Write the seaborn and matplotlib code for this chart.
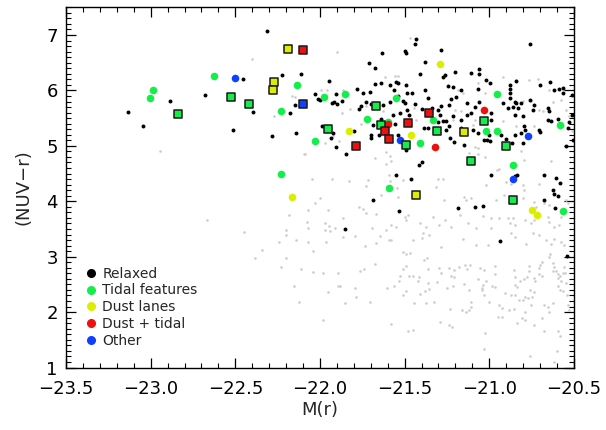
import numpy as np
import matplotlib
matplotlib.use('Agg')
import matplotlib.pyplot as plt
import seaborn as sns
from matplotlib.lines import Line2D
from matplotlib.ticker import MultipleLocator

# parent sample (light grey)
gray_x = [-22.403, -22.944, -22.165, -22.147, -22.269, -22.09,
          -22.67, -22.446, -22.344, -22.385, -22.242, -22.228, -22.20, -22.202, -22.198, -22.183,
          -22.139, -22.153, -22.11, -22.124, -22.078, -22.07, -22.07, -22.07,
          -21.47, -21.90, -21.618, -21.557, -21.537, -21.994, -21.958, -21.864, -21.825, -21.87,
          -21.73, -21.628, -21.443, -21.435, -21.757, -21.925, -21.70,
          -20.92, -20.84, -20.763, -20.713, -21.067, -21.028, -21.186, -21.156, -20.753, -20.80,
          -20.704, -20.684, -20.645, -20.625, -20.575, -20.546, -20.527, -21.205, -21.166, -21.215,
          -21.087, -21.097, -20.92, -20.84, -20.733, -20.566, -20.51,
          -21.888, -21.97, -22.092, -21.673, -21.612, -21.588, -21.578, -21.608, -22.05, -21.927,
          -21.826, -21.717, -21.593, -21.588, -21.726, -21.51, -21.546, -21.54, -21.638, -22.0,
          -22.03, -21.771, -21.746, -21.728, -21.953, -21.667, -21.50, -21.48, -21.49, -21.864,
          -21.97, -21.947, -21.913, -21.97, -21.938, -21.69, -21.578, -21.553, -21.608, -21.647,
          -21.593, -21.578, -21.795, -21.864, -21.966, -21.736, -21.667, -21.451, -21.40, -21.392,
          -21.372, -21.353, -21.408, -21.333, -21.51, -21.47, -22.041,
          -21.117, -21.067, -21.028, -20.953, -20.94, -20.792, -20.81, -21.087, -21.067, -20.635,
          -21.30, -21.274, -21.018, -20.90, -20.87, -20.80, -20.796, -20.704, -21.313, -21.15,
          -21.136, -21.268, -21.107, -20.959, -20.91, -20.80, -20.733, -20.723, -20.674, -20.645,
          -20.546, -20.537, -21.264, -21.175, -21.038, -20.99, -20.94, -20.89, -20.88, -20.86,
          -20.85, -20.79, -20.753, -20.733, -20.655, -20.645, -20.616, -20.586, -20.575, -21.077,
          -21.126, -21.225, -21.294, -20.99, -20.87, -20.85, -20.743, -20.704, -20.664, -20.635,
          -20.616, -20.575, -20.556, -21.284, -21.156, -21.077, -21.008, -20.78,
          -22.04, -21.893, -21.893, -21.883, -21.953, -21.984, -21.85, -21.793, -21.785, -21.765,
          -21.742, -21.677, -21.706, -21.606, -21.561, -21.583, -21.53, -21.534, -21.51, -21.494,
          -21.494, -21.476, -21.449, -21.422, -21.416, -21.49, -21.51, -21.447, -21.408, -21.376,
          -21.38, -21.357, -21.36, -21.386, -21.37, -21.363, -21.329, -21.48, -21.45,
          -21.294, -21.284, -21.307, -21.235, -21.21, -21.176, -21.142, -21.13, -21.112, -21.225,
          -21.211, -21.25, -21.215, -21.15, -21.12, -21.23, -21.288, -21.24, -21.22, -21.107,
          -21.158, -21.136, -21.12, -21.11, -21.053, -21.032, -21.067, -21.022, -21.034, -21.044,
          -21.042, -21.032, -21.004, -20.985, -20.965, -20.965, -20.965, -21.024, -21.032, -20.944,
          -20.924, -20.95, -20.924, -20.904, -20.886, -20.87, -20.85, -20.855, -20.855, -20.85,
          -20.845, -20.835, -20.816, -20.796, -20.776, -20.767, -20.767, -20.835, -20.806, -20.786,
          -20.826, -20.80, -20.79, -20.77, -20.747, -20.786, -20.757, -20.737, -20.753, -20.733,
          -20.757, -20.737, -20.727, -20.704, -20.698, -20.69, -20.708, -20.688, -20.678, -20.655,
          -20.688, -20.678, -20.645, -20.645, -20.625, -20.616, -20.605, -20.625, -20.621, -20.596,
          -20.592, -20.58, -20.575, -20.566, -20.596, -20.58, -20.566, -20.542, -20.537, -20.53,
          -20.592, -20.58, -20.60, -20.616, -20.556, -20.552, -20.546, -20.64, -21.98]
gray_y = [6.57, 4.90, 5.90, 5.88, 5.53, 4.85,
          3.66, 3.45, 3.12, 2.98, 3.26, 2.81, 2.98, 3.48, 3.40, 3.75,
          3.31, 2.48, 2.77, 2.18, 3.62, 3.84, 3.51, 3.27,
          6.94, 6.69, 6.24, 6.26, 6.26, 6.00, 6.00, 6.00, 5.66, 5.60,
          5.72, 5.62, 5.68, 5.47, 5.40, 5.18, 5.18,
          6.24, 6.18, 6.18, 6.20, 6.14, 5.96, 6.01, 5.95, 5.81, 5.81,
          5.65, 5.62, 6.01, 5.80, 5.82, 5.65, 5.53, 5.65, 5.62, 5.47,
          5.47, 5.38, 5.44, 5.35, 5.35, 5.35, 5.26,
          5.08, 5.05, 4.86, 4.78, 4.89, 4.82, 4.73, 4.67, 4.41, 4.40,
          4.37, 4.39, 4.47, 4.36, 4.28, 4.38, 4.24, 4.08, 4.11, 4.06,
          3.97, 3.90, 3.86, 3.79, 3.85, 3.77, 3.72, 3.75, 3.67, 3.69,
          3.60, 3.56, 3.52, 3.49, 3.46, 3.52, 3.57, 3.54, 3.48, 3.37,
          3.31, 3.30, 3.37, 3.36, 3.27, 3.19, 3.25, 3.31, 3.34, 3.42,
          3.54, 3.39, 3.60, 3.72, 3.08, 3.07, 3.10,
          4.87, 4.86, 4.79, 4.56, 4.59, 4.75, 4.90, 4.98, 4.96, 4.73,
          4.41, 4.41, 4.30, 4.35, 4.32, 4.29, 4.21, 4.32, 4.26, 4.08,
          4.02, 4.02, 4.05, 4.02, 4.11, 4.05, 3.99, 3.90, 3.96, 3.93,
          4.02, 3.96, 3.67, 3.75, 3.73, 3.69, 3.69, 3.69, 3.60, 3.69,
          3.58, 3.66, 3.60, 3.66, 3.72, 3.62, 3.54, 3.57, 3.72, 3.52,
          3.60, 3.54, 3.57, 3.51, 3.42, 3.36, 3.42, 3.39, 3.30, 3.23,
          3.32, 3.27, 3.21, 3.18, 3.32, 3.21, 3.21, 3.23,
          2.73, 2.71, 2.47, 2.48, 2.37, 1.85, 2.17, 2.43, 2.27, 2.74,
          2.77, 2.86, 2.19, 2.44, 2.47, 1.79, 2.65, 2.56, 2.77, 2.83,
          3.05, 2.65, 2.66, 2.57, 2.64, 2.38, 2.31, 2.16, 2.33, 2.16,
          2.38, 2.42, 2.53, 2.94, 2.98, 2.77, 2.19, 1.65, 1.68,
          2.79, 2.71, 2.54, 2.79, 2.76, 2.82, 2.85, 2.78, 2.85, 2.65,
          2.63, 2.43, 2.47, 2.50, 2.40, 2.06, 1.83, 1.77, 1.74, 2.19,
          2.04, 2.00, 2.03, 2.09, 2.80, 2.76, 2.59, 2.57, 2.49, 2.43,
          2.39, 2.31, 2.18, 2.47, 2.46, 2.83, 2.68, 1.62, 1.33, 2.13,
          2.07, 1.92, 1.91, 2.34, 2.03, 2.30, 2.31, 2.06, 2.76, 2.63,
          2.49, 2.46, 2.57, 2.59, 2.63, 2.75, 2.83, 1.80, 1.89, 1.86,
          2.21, 2.22, 2.27, 2.25, 2.28, 2.00, 2.40, 2.36, 2.13, 1.77,
          1.21, 2.61, 2.57, 2.80, 2.85, 2.90, 2.69, 2.66, 2.12, 2.09,
          1.89, 1.66, 2.00, 2.99, 2.89, 2.81, 2.75, 2.75, 2.16, 2.69,
          2.61, 2.65, 2.57, 2.70, 2.48, 2.39, 2.38, 2.30, 2.13, 2.03,
          1.66, 1.57, 1.29, 1.10, 2.82, 2.71, 2.52, 3.05, 2.70]

# Relaxed (black)
relaxed_x = [-23.136, -23.044, -22.885, -22.678, -22.513, -22.456, -22.397, -22.314, -22.285, -22.224,
             -22.178, -22.149, -22.141, -22.115,
             -21.948, -22.029, -22.013, -22.001, -21.929, -21.919, -21.897, -21.905, -21.868, -21.78,
             -21.748, -21.703, -21.73, -21.76, -21.77, -21.71, -21.677, -21.632, -21.673, -21.638,
             -21.587, -21.553, -21.541, -21.565, -21.492, -21.50, -21.49, -21.44, -21.43, -21.408,
             -21.378, -21.488, -21.459, -21.541, -21.378, -21.363, -21.437, -21.498, -21.51, -21.63,
             -21.699, -21.587, -21.53, -21.484, -21.476, -21.40, -21.569, -21.64, -21.557, -21.687,
             -21.99, -21.923, -21.80, -21.696, -21.652, -21.54, -21.384, -21.363, -21.337,
             -21.284, -21.205, -21.107, -21.058, -21.058, -20.757, -21.274, -21.264, -21.245, -21.215,
             -21.225, -21.195, -21.166, -21.13, -21.284, -21.30, -21.24, -21.29, -21.254, -21.215,
             -21.235, -21.166, -21.132, -21.107, -21.087, -21.058, -21.067, -21.018, -20.993, -20.92,
             -20.88, -20.88, -20.875, -20.841, -20.88, -20.85, -20.84, -20.89, -20.861, -20.83,
             -20.81, -20.80, -20.85, -20.76, -20.733, -20.743, -20.70, -20.64, -20.655, -20.645,
             -20.655, -20.635, -20.616, -20.59, -20.566, -20.566, -20.596, -20.537, -20.527, -20.704,
             -20.698, -20.792, -20.786, -20.81, -20.85, -21.30, -21.274, -21.166, -21.166, -21.254,
             -21.097, -21.067, -20.99, -21.0, -20.93, -20.988, -20.51, -20.51,
             -21.935, -21.907, -21.846, -21.696, -21.494, -21.40, -21.413, -21.55, -21.46, -21.687,
             -21.533, -21.854,
             -21.23, -21.21, -21.152, -21.032, -21.012, -20.993, -20.90, -20.865, -20.80, -20.546,
             -20.507, -20.99, -20.847, -20.835, -20.674, -20.605, -20.58, -20.625, -20.616, -20.596,
             -20.674, -20.61, -21.187, -21.087, -21.034, -20.934, -20.54]
relaxed_y = [5.61, 5.36, 5.81, 5.92, 5.29, 6.21, 5.61, 7.07, 5.17, 6.28,
             5.59, 5.74, 5.24, 6.29,
             6.17, 5.94, 5.84, 5.83, 5.77, 5.80, 5.75, 5.94, 5.81, 6.03,
             5.95, 5.98, 5.80, 5.72, 5.66, 6.50, 6.41, 6.67, 6.12, 6.13,
             6.09, 6.16, 6.13, 6.00, 6.09, 6.71, 6.68, 6.83, 6.92, 6.30,
             6.51, 5.95, 5.95, 5.90, 6.00, 5.87, 5.76, 5.77, 5.81, 5.74,
             5.76, 5.79, 5.60, 5.64, 5.55, 5.66, 5.56, 5.49, 5.40, 5.38,
             5.35, 5.23, 5.26, 5.20, 5.20, 5.20, 5.33, 5.33, 5.68,
             6.73, 6.34, 6.32, 6.38, 6.30, 6.83, 6.25, 6.28, 6.08, 6.06,
             5.84, 5.88, 6.01, 5.77, 5.72, 5.65, 5.73, 5.56, 5.45, 5.53,
             5.36, 5.47, 5.56, 5.59, 5.70, 5.80, 6.02, 6.19, 6.14, 5.77,
             6.10, 6.02, 5.95, 6.17, 5.86, 5.80, 5.77, 5.68, 5.71, 5.68,
             5.77, 5.53, 5.56, 5.83, 5.74, 5.65, 6.10, 6.16, 5.68, 5.62,
             5.47, 5.44, 6.00, 6.02, 6.04, 5.95, 5.48, 5.32, 5.43, 5.29,
             5.25, 5.35, 5.29, 5.23, 5.20, 5.43, 5.44, 5.32, 5.25, 5.29,
             5.29, 5.23, 5.47, 5.20, 5.20, 5.60, 5.92, 5.55,
             5.14, 4.98, 4.85, 5.15, 4.92, 4.70, 4.66, 4.47, 4.41, 4.02,
             3.82, 3.50,
             5.14, 5.07, 5.02, 5.11, 5.11, 5.08, 5.13, 5.05, 5.06, 4.99,
             5.10, 4.47, 4.45, 4.47, 4.48, 4.42, 4.33, 4.20, 4.13, 4.09,
             4.03, 3.88, 3.87, 3.90, 3.92, 3.28, 3.01]

# Tidal features (green)
tidal_circ_x = [-23.003, -22.987, -22.626, -22.23, -22.136, -22.23, -22.03, -21.976, -21.85, -21.72,
                -21.60, -21.55, -21.59, -21.41, -21.33, -21.02, -20.956, -20.956, -20.86, -20.58, -20.566]
tidal_circ_y = [5.86, 6.01, 6.26, 5.62, 6.09, 4.49, 5.09, 5.88, 5.93, 5.48,
                5.43, 5.86, 4.24, 5.06, 5.47, 5.26, 5.94, 5.27, 4.65, 5.38, 3.82]
tidal_sq_x = [-22.836, -22.526, -22.42, -21.95, -21.67, -21.64, -21.49, -21.31, -21.11, -21.03, -20.90, -20.86]
tidal_sq_y = [5.57, 5.89, 5.76, 5.30, 5.72, 5.38, 5.02, 5.26, 4.72, 5.44, 4.99, 4.02]

# Dust lanes (yellow)
dust_circ_x = [-22.165, -21.83, -21.46, -21.29, -20.75, -20.72]
dust_circ_y = [4.08, 5.27, 5.19, 6.47, 3.85, 3.76]
dust_sq_x = [-22.19, -22.27, -22.28, -21.43, -21.15]
dust_sq_y = [6.74, 6.15, 6.01, 4.11, 5.25]

# Dust + tidal (red)
dt_circ_x = [-21.60, -21.32, -21.03]
dt_circ_y = [5.39, 4.98, 5.65]
dt_sq_x = [-22.10, -21.79, -21.615, -21.59, -21.48, -21.355]
dt_sq_y = [6.73, 4.99, 5.26, 5.12, 5.41, 5.59]

# Other (blue)
other_circ_x = [-22.50, -21.53, -20.77, -20.86]
other_circ_y = [6.22, 5.10, 5.18, 4.40]
other_sq_x = [-22.10]
other_sq_y = [5.75]

labels = ['Relaxed', 'Tidal features', 'Dust lanes', 'Dust + tidal', 'Other']
colors = ['black', '#14ee4a', '#dcee00', '#ee1010', '#1040ff']

sns.set_style('ticks', {'xtick.direction': 'in', 'ytick.direction': 'in'})
plt.rcParams['font.family'] = ['DejaVu Sans']

fig = plt.figure(figsize=(6.06, 4.30), dpi=100)
ax = fig.add_axes([0.109, 0.1453, 0.838, 0.8377])

sns.scatterplot(x=gray_x, y=gray_y, ax=ax, color='#cdcdcd', s=3.5, linewidth=0, zorder=1, legend=False)
sns.scatterplot(x=relaxed_x, y=relaxed_y, ax=ax, color='black', s=8, linewidth=0, zorder=2, legend=False)

circ_sets = [(tidal_circ_x, tidal_circ_y), (dust_circ_x, dust_circ_y),
             (dt_circ_x, dt_circ_y), (other_circ_x, other_circ_y)]
sq_sets = [(tidal_sq_x, tidal_sq_y), (dust_sq_x, dust_sq_y),
           (dt_sq_x, dt_sq_y), (other_sq_x, other_sq_y)]
for (cx, cy), (qx, qy), col in zip(circ_sets, sq_sets, colors[1:]):
    sns.scatterplot(x=cx, y=cy, ax=ax, color=col, s=30, linewidth=0, zorder=3, legend=False)
    sns.scatterplot(x=qx, y=qy, ax=ax, color=col, marker='s', s=32, edgecolor='#1a1a1a',
                    linewidth=1.1, zorder=4, legend=False)

ax.set_xlim(-23.5, -20.5)
ax.set_ylim(1.0, 7.5)
ax.xaxis.set_major_locator(MultipleLocator(0.5))
ax.xaxis.set_minor_locator(MultipleLocator(0.1))
ax.yaxis.set_major_locator(MultipleLocator(1))
ax.yaxis.set_minor_locator(MultipleLocator(0.1))
ax.set_xticklabels([f'\u2212{abs(v):.1f}' for v in ax.get_xticks()])
ax.tick_params(which='both', direction='in', top=True, right=True, colors='black')
ax.tick_params(which='major', length=7, width=0.9, labelsize=13)
ax.tick_params(which='minor', length=3.6, width=0.8)
ax.tick_params(axis='x', which='major', pad=9)
ax.tick_params(axis='y', which='major', pad=6)
for sp in ax.spines.values():
    sp.set_linewidth(1.0)
    sp.set_color('black')

ax.set_xlabel('M(r)', fontsize=13, labelpad=2)
ax.set_ylabel('(NUV\u2212r)', fontsize=13, labelpad=10)

handles = [Line2D([], [], marker='o', linestyle='none', color=c, markersize=5.5) for c in colors]
ax.legend(handles, labels, loc='lower left', bbox_to_anchor=(0.041, 0.055), frameon=False,
          fontsize=10, handlelength=0.6, handletextpad=0.5, labelspacing=0.2, borderaxespad=0,
          borderpad=0)

fig.savefig('out.png', dpi=100)
